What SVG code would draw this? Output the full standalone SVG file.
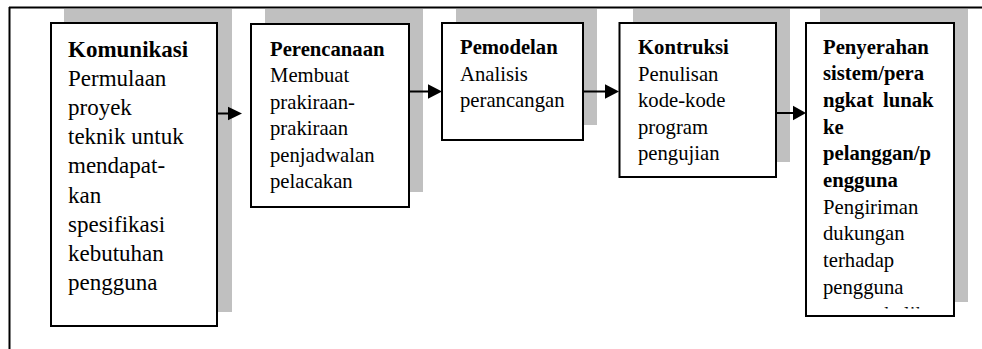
<svg xmlns="http://www.w3.org/2000/svg" width="982" height="349" viewBox="0 0 982 349">
<style>
  .frame { stroke: #000; stroke-width: 2; fill: none; }
  .shadow { fill: #c0c0c0; stroke: none; }
  .box { fill: #fff; stroke: #000; stroke-width: 2; }
  text { font-family: 'Liberation Serif', 'Times New Roman', Times, serif; fill: #000; }
  .b { font-weight: bold; }
  .f23 { font-size: 23px; }
  .f21 { font-size: 20.7px; }
  .conn line { stroke: #000; stroke-width: 2; }
  .conn polygon { fill: #000; }
</style>
<defs>
  <clipPath id="clip5"><rect x="806" y="23" width="148" height="285.5"/></clipPath>
</defs>
<rect width="982" height="349" fill="#fff"/>
<g id="frame">
  <line class="frame" x1="9" y1="7.5" x2="982" y2="7.5"/>
  <line class="frame" x1="9.5" y1="7" x2="9.5" y2="349"/>
</g>
<g id="node-komunikasi">
  <rect class="shadow" x="64" y="9" width="168" height="303"/>
  <rect class="box" x="51" y="23" width="166" height="303"/>
  <text class="f23" font-family="Liberation Serif, serif">
    <tspan class="b" x="68" y="56.7">Komunikasi</tspan>
    <tspan x="68" y="85.9">Permulaan</tspan>
    <tspan x="68" y="115">proyek</tspan>
    <tspan x="68" y="144.2">teknik untuk</tspan>
    <tspan x="68" y="173.3">mendapat-</tspan>
    <tspan x="68" y="202.5">kan</tspan>
    <tspan x="68" y="231.7">spesifikasi</tspan>
    <tspan x="68" y="260.8">kebutuhan</tspan>
    <tspan x="68" y="290">pengguna</tspan>
  </text>
</g>
<g id="node-perencanaan">
  <rect class="shadow" x="265" y="9" width="158" height="183"/>
  <rect class="box" x="251" y="24" width="158" height="183"/>
  <text class="f21">
    <tspan class="b" x="270" y="56">Perencanaan</tspan>
    <tspan x="270" y="82.4">Membuat</tspan>
    <tspan x="270" y="108.8">prakiraan-</tspan>
    <tspan x="270" y="135.2">prakiraan</tspan>
    <tspan x="270" y="161.6">penjadwalan</tspan>
    <tspan x="270" y="188">pelacakan</tspan>
  </text>
</g>
<g id="node-pemodelan">
  <rect class="shadow" x="456" y="9" width="141" height="116"/>
  <rect class="box" x="442" y="23" width="141" height="117"/>
  <text class="f21">
    <tspan class="b" x="460" y="54.3">Pemodelan</tspan>
    <tspan x="460" y="80.7">Analisis</tspan>
    <tspan x="460" y="107">perancangan</tspan>
  </text>
</g>
<g id="node-kontruksi">
  <rect class="shadow" x="633" y="9" width="157" height="153"/>
  <rect class="box" x="619.5" y="23" width="156.5" height="154"/>
  <text class="f21">
    <tspan class="b" x="638" y="54.3">Kontruksi</tspan>
    <tspan x="638" y="80.7">Penulisan</tspan>
    <tspan x="638" y="107.1">kode-kode</tspan>
    <tspan x="638" y="133.5">program</tspan>
    <tspan x="638" y="160">pengujian</tspan>
  </text>
</g>
<g id="node-penyerahan">
  <rect class="shadow" x="820" y="9" width="148" height="293"/>
  <rect class="box" x="806" y="23" width="148" height="293"/>
  <text class="f21" clip-path="url(#clip5)">
    <tspan class="b" x="823" y="53.5">Penyerahan</tspan>
    <tspan class="b" x="823" y="80.2">sistem/pera</tspan>
    <tspan class="b" x="823" y="106.9">ngkat</tspan><tspan class="b" x="883" y="106.9">lunak</tspan>
    <tspan class="b" x="823" y="133.6">ke</tspan>
    <tspan class="b" x="823" y="160.3">pelanggan/p</tspan>
    <tspan class="b" x="823" y="187">engguna</tspan>
    <tspan x="823" y="213.7">Pengiriman</tspan>
    <tspan x="823" y="240.4">dukungan</tspan>
    <tspan x="823" y="267.1">terhadap</tspan>
    <tspan x="823" y="293.8">pengguna</tspan>
    <tspan x="823" y="320.8">umpan balik</tspan>
  </text>
</g>
<g id="connectors" class="conn">
  <line x1="217" y1="113.5" x2="229" y2="113.5"/>
  <polygon points="228,106.7 242,113.5 228,120.3"/>
  <line x1="409" y1="91.5" x2="429" y2="91.5"/>
  <polygon points="428,84.2 442,91.5 428,98.8"/>
  <line x1="583" y1="91.5" x2="606" y2="91.5"/>
  <polygon points="605,84.2 619,91.5 605,98.8"/>
  <line x1="776" y1="113" x2="794" y2="113"/>
  <polygon points="793,105.7 806,113 793,120.3"/>
</g>
</svg>
